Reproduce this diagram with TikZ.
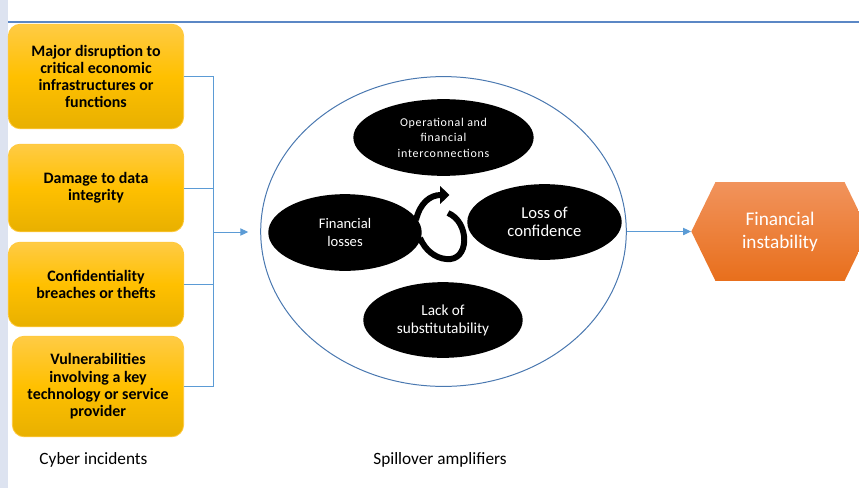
\documentclass[tikz,border=0pt]{standalone}
\usepackage{fontspec}
\setmainfont{Carlito}
\usetikzlibrary{shapes.geometric,shapes.symbols,arrows.meta}
\definecolor{stripgray}{HTML}{DDE3F0}
\definecolor{ruleblue}{HTML}{5B87C5}
\definecolor{linkblue}{HTML}{5B9BD5}
\definecolor{ringblue}{HTML}{4A78B0}
\definecolor{boxtop}{HTML}{FFCB45}
\definecolor{boxmid}{HTML}{FFC000}
\definecolor{boxbottom}{HTML}{E8B000}
\definecolor{boxedge}{HTML}{FFC83C}
\definecolor{hextop}{HTML}{F1935C}
\definecolor{hexbottom}{HTML}{E86F1C}

\begin{document}
\begin{tikzpicture}[scale=0.2646]
	\tikzstyle{every node}+=[inner sep=0pt]
	\tikzstyle{incident}=[draw=boxedge, line width=0.6pt, rounded corners=9pt, top color=boxtop, bottom color=boxbottom, middle color=boxmid, align=center, font=\fontsize{12}{13}\selectfont\bfseries]
	\tikzstyle{amplifier}=[ellipse, fill=black, text=white, align=center, font=\fontsize{11}{13.5}\selectfont]
	\tikzstyle{link}=[linkblue, line width=0.75pt]
	\tikzstyle{linkarrow}=[link, -{Triangle[length=6pt,width=5.5pt]}]
	\useasboundingbox (0,0) rectangle (85.9,-48.8);
	\fill [stripgray] (0,0) rectangle (0.8,-48.8);
	\draw [ruleblue, line width=1.5pt] (0.8,-2.23) -- (85.9,-2.23);
	\node [incident, minimum width=132pt, minimum height=78.75pt] (disrupt) at (9.6,-7.65) {Major disruption to\\critical economic\\infrastructures or\\functions};
	\node [incident, minimum width=132pt, minimum height=66pt] (damage) at (9.6,-18.8) {Damage to data\\integrity};
	\node [incident, minimum width=132pt, minimum height=63.75pt] (breach) at (9.6,-28.45) {Confidentiality\\breaches or thefts};
	\node [incident, minimum width=129pt, minimum height=75.75pt] (vuln) at (9.8,-38.65) {Vulnerabilities\\involving a key\\technology or service\\provider};
	\node [font=\fontsize{13}{15}\selectfont] (cyber) at (9.35,-46.0) {Cyber incidents};
	\node [ellipse, draw=ringblue, line width=0.75pt, minimum width=275.25pt, minimum height=233.25pt] (spill) at (44.35,-23.15) {};
	\node [font=\fontsize{13}{15}\selectfont] (spilltext) at (44.0,-46.0) {Spillover amplifiers};
	\node [amplifier, minimum width=135.75pt, minimum height=57.75pt, font=\fontsize{9}{11.6}\selectfont\addfontfeatures{LetterSpace=6}] (links) at (44.35,-13.75) {Operational and\\financial\\interconnections};
	\node [amplifier, minimum width=115.5pt, minimum height=57.75pt] (losses) at (34.5,-23.25) {Financial\\losses};
	\node [amplifier, minimum width=116.25pt, minimum height=57pt, font=\fontsize{12.5}{14}\selectfont] (confid) at (54.45,-22.2) {Loss of\\confidence};
	\node [amplifier, minimum width=120pt, minimum height=57pt, font=\fontsize{11.5}{13.5}\selectfont] (subst) at (44.3,-32.0) {Lack of\\substitutability};
	\draw [black, line width=4.5pt] (44.8,-21.3) .. controls (47.0,-22.2) and (47.0,-26.2) .. (44.6,-25.9) .. controls (43.5,-25.8) and (42.5,-25.0) .. (42.0,-23.8);
	\draw [black, line width=4.5pt, -{Triangle[length=7pt,width=13pt]}] (41.6,-22.0) .. controls (42.0,-20.3) and (43.0,-19.5) .. (44.95,-19.5);
	\node [signal, signal to=west and east, signal pointer angle=128, minimum width=133.5pt, minimum height=74.25pt, top color=hextop, bottom color=hexbottom, text=white, align=center, font=\fontsize{14.5}{17.5}\selectfont] (instab) at (78.0,-23.15) {Financial\\instability};
	\coordinate (join) at (21.3,-23.2);
	\draw [link] (disrupt.east) -| (join);
	\draw [link] (damage.east) -| (join);
	\draw [link] (breach.east) -| (join);
	\draw [link] (vuln.east) -| (join);
	\draw [linkarrow, shorten >=9pt] (join) -- (join -| spill.west);
	\draw [linkarrow] (spill.east) -- (instab.west);
\end{tikzpicture}
\end{document}
